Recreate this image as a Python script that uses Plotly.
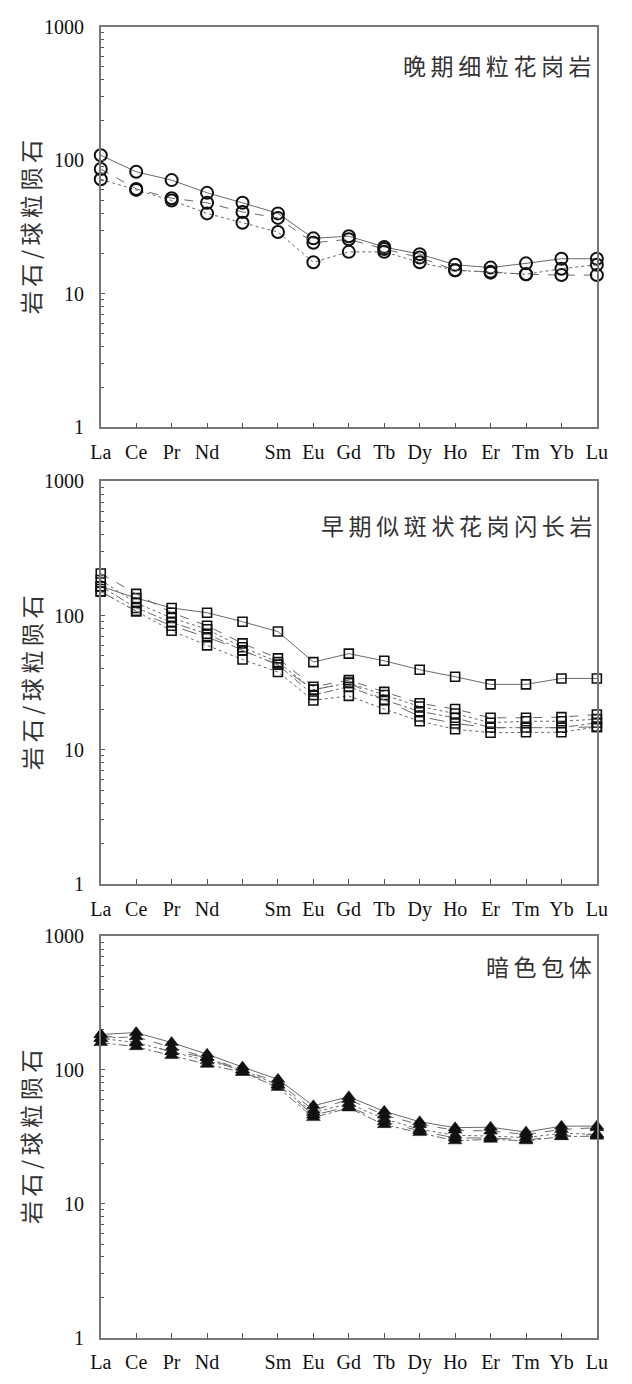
import plotly.graph_objects as go

# ---------------- data ----------------
ELEMENTS = ["La", "Ce", "Pr", "Nd", "Pm", "Sm", "Eu", "Gd", "Tb", "Dy", "Ho", "Er", "Tm", "Yb", "Lu"]
TICK_TEXT = ["La", "Ce", "Pr", "Nd", "", "Sm", "Eu", "Gd", "Tb", "Dy", "Ho", "Er", "Tm", "Yb", "Lu"]
Y_TICKS = [1, 10, 100, 1000]

PANEL_TITLES = ["晚期细粒花岗岩", "早期似斑状花岗闪长岩", "暗色包体"]
Y_TITLE = "岩石/球粒陨石"

# Panel 1: late fine-grained granite (open circles)
late_1 = [109, 82, 71, 57, 48, 40, 26, 27, 22.4, 19.8, 16.5, 15.7, 16.9, 18.3, 18.3]
late_2 = [86, 61, 52, 48, 41, 37, 24.1, 25.6, 21.6, 18.7, 15.0, 14.6, 14.0, 13.8, 13.8]
late_3 = [72, 60, 50, 40, 34, 29, 17.2, 20.6, 20.6, 17.2, 15.0, 14.4, 14.0, 15.4, 16.5]

# Panel 2: early porphyritic granodiorite (open squares)
early_1 = [165, 135, 114, 105, 90, 76, 45, 52, 46, 39.5, 35, 30.7, 30.7, 34, 34]
early_2 = [206, 145, 105, 84, 62, 48, 29.5, 33, 27, 22.2, 20.1, 17.3, 17.3, 17.5, 18.3]
early_3 = [184, 124, 96, 79, 58, 45, 28, 31.5, 25.6, 21, 18.6, 15.9, 16.3, 16.3, 16.9]
early_4 = [165, 114, 89, 73, 55, 43, 25.6, 29.5, 23.5, 19.3, 17.3, 14.6, 14.6, 14.6, 15.9]
early_5 = [151, 108, 84, 69, 55, 43, 28, 31.5, 23.5, 17.7, 15.7, 14.6, 14.6, 14.6, 14.8]
early_6 = [151, 108, 77, 60, 47, 38, 23.3, 25.2, 20.1, 16.3, 14.2, 13.4, 13.5, 13.5, 14.8]

# Panel 3: mafic enclaves (filled triangles)
encl_1 = [184, 190, 160, 131, 105, 85, 54, 63, 49, 41, 37, 37.3, 34.3, 38, 38]
encl_2 = [172, 177, 147, 124, 100, 81, 50, 60, 46, 39, 35.5, 34.9, 33, 35.9, 37]
encl_3 = [172, 160, 137, 117, 100, 77, 48, 56, 43, 36, 32.5, 32, 31.2, 33.6, 33]
encl_4 = [160, 149, 128, 110, 96, 74, 44, 52, 39, 34, 29.5, 30.3, 29.5, 31.7, 32]
encl_5 = [184, 160, 137, 124, 96, 77, 46, 53, 41, 35, 31, 31, 30, 32, 33]

PANELS = [
    [late_1, late_2, late_3],
    [early_1, early_2, early_3, early_4, early_5, early_6],
    [encl_1, encl_2, encl_3, encl_4, encl_5],
]

# ---------------- styling ----------------
W, H = 632, 1384
X0, X1 = 93, 607
PANEL_PX = [(16, 423), (478, 887), (940, 1348)]
TITLE_OFF = [39, 44, 30]
MARKERS = [
    dict(symbol="circle-open", size=12, color="#111", line=dict(width=2, color="#111")),
    dict(symbol="square-open", size=9, color="#111", line=dict(width=1.6, color="#111")),
    dict(symbol="triangle-up", size=12, color="#111", line=dict(width=0.5, color="#111")),
]
DASHES = ["solid", "dash", "dot", "dashdot", "longdash", "dot"]
SERIF = "Liberation Serif, Times New Roman, serif"
CJK = "Noto Sans CJK SC"
THIN = "\u2009"


def spaced(s):
    return THIN.join(list(s))


minor_vals = [m * 10 ** e for e in range(3) for m in range(2, 10)]

fig = go.Figure()
annotations = []
for p, series in enumerate(PANELS):
    xa = "x" if p == 0 else f"x{p+1}"
    ya = "y" if p == 0 else f"y{p+1}"
    for i, vals in enumerate(series):
        fig.add_trace(go.Scatter(
            x=list(range(len(ELEMENTS))), y=vals, mode="lines+markers",
            xaxis=xa, yaxis=ya, cliponaxis=False, showlegend=False,
            line=dict(color="#6a6a6a", width=1, dash=DASHES[i % len(DASHES)]),
            marker=MARKERS[p],
        ))
    top, bot = PANEL_PX[p]
    dom_y = [1 - bot / H, 1 - top / H]
    xkey = "xaxis" if p == 0 else f"xaxis{p+1}"
    ykey = "yaxis" if p == 0 else f"yaxis{p+1}"
    fig.update_layout(**{
        xkey: dict(
            domain=[X0 / W, X1 / W], anchor=ya, range=[0, len(ELEMENTS) - 1],
            tickmode="array", tickvals=list(range(len(ELEMENTS))), ticktext=TICK_TEXT,
            ticks="inside", ticklen=5, tickcolor="#555", tickwidth=1,
            showline=True, linecolor="#777", linewidth=1.5, mirror=True,
            showgrid=False, zeroline=False, ticklabelstandoff=6,
            tickfont=dict(family=SERIF, size=20, color="#111"),
        ),
        ykey: dict(
            domain=dom_y, anchor=xa, type="log", range=[0, 3],
            tickmode="array", tickvals=Y_TICKS, ticktext=[str(v) for v in Y_TICKS],
            ticks="inside", ticklen=4, tickcolor="#555",
            minor=dict(tickmode="array", tickvals=minor_vals, ticks="inside", ticklen=3, tickcolor="#555", showgrid=False),
            showline=True, linecolor="#777", linewidth=1.5, mirror=True,
            showgrid=False, zeroline=False, ticklabelstandoff=11,
            tickfont=dict(family=SERIF, size=20, color="#111"),
        ),
    })
    annotations.append(dict(
        text=spaced(PANEL_TITLES[p]), xref="paper", yref="paper",
        x=604 / W, y=1 - (top + TITLE_OFF[p]) / H, xanchor="right", yanchor="middle",
        showarrow=False, font=dict(family=CJK, size=23, color="#333"),
    ))
    annotations.append(dict(
        text=spaced(Y_TITLE), xref="paper", yref="paper", textangle=-90,
        x=20 / W, y=1 - ((top + bot) / 2) / H, xanchor="center", yanchor="middle",
        showarrow=False, font=dict(family=CJK, size=23, color="#333"),
    ))

fig.update_layout(
    width=W, height=H, margin=dict(l=0, r=0, t=0, b=0),
    paper_bgcolor="white", plot_bgcolor="white",
    annotations=annotations,
)
fig.write_html("out.html")
